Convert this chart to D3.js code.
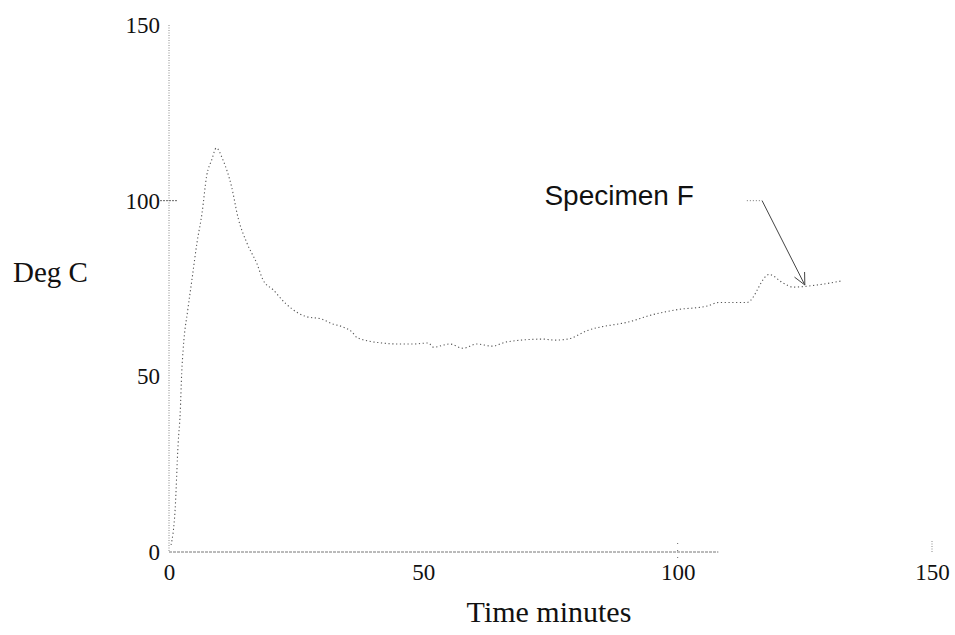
<!DOCTYPE html>
<html>
<head>
<meta charset="utf-8">
<script src="https://cdn.jsdelivr.net/npm/d3@7"></script>
<style>
  body { margin: 0; background: #fff; }
  svg text { font-family: "Liberation Serif", "Times New Roman", serif; fill: #111; }
</style>
</head>
<body>
<div id="chart"></div>
<script>
// chart size
var svgWidth = 955;
var svgHeight = 635;

var margin = { top: 25, right: 23, bottom: 83, left: 169 };
var chartWidth = svgWidth - margin.left - margin.right;
var chartHeight = svgHeight - margin.top - margin.bottom;

// data (time in minutes, temperature in deg C)
var timeMin = [0.4, 1.2, 1.8, 2.2, 2.5, 2.8, 3.7, 4.5, 5.5, 6.5, 7.4, 8.4, 9.3, 10.6, 12.3, 13.6,
  15.3, 17.3, 18.5, 20.5, 22.8, 25.4, 27, 30, 32, 34.3, 36, 37, 41.8, 45.4, 48, 51, 52, 55.2,
  57.8, 60.5, 63.5, 66.4, 73.5, 75.9, 78.4, 82.2, 91.2, 94.2, 100, 105.8, 108, 113.6, 118,
  120.7, 122.7, 127.4, 132];
var tempC = [2, 12, 31, 39.5, 51, 58, 69, 77.4, 88, 96.5, 107, 111.6, 115, 111.6, 104, 95,
  88, 82, 77.4, 74.6, 70.9, 68, 67, 66.3, 65, 64, 62.6, 61, 59.5, 59.2, 59.2, 59.5, 58.3, 59.2,
  58, 59.2, 58.6, 59.8, 60.6, 60.3, 60.6, 63, 65.8, 67.2, 69, 70, 71, 71, 79,
  76.6, 75.4, 76, 77.1];

var xTicks = [0, 50, 100, 150];
var yTicks = [0, 50, 100, 150];

// annotation
var labelText = "Specimen F";
var arrowFrom = [116.6, 100];
var arrowTo = [125, 76];
var leaderStart = 113.6;

var svg = d3.select("#chart")
  .append("svg")
  .attr("width", svgWidth)
  .attr("height", svgHeight);

var chartGroup = svg.append("g")
  .attr("transform", `translate(${margin.left}, ${margin.top})`);

var xScale = d3.scaleLinear().domain([0, 150]).range([0, chartWidth]);
var yScale = d3.scaleLinear().domain([0, 150]).range([chartHeight, 0]);

// axes - only labels come from d3 axis, lines are drawn dotted like the scan
var bottomAxis = d3.axisBottom(xScale).tickValues(xTicks).tickSize(0).tickPadding(12);
var leftAxis = d3.axisLeft(yScale).tickValues(yTicks).tickSize(0).tickPadding(9);

var xAxisG = chartGroup.append("g")
  .attr("transform", `translate(0, ${chartHeight})`)
  .call(bottomAxis);
var yAxisG = chartGroup.append("g").call(leftAxis);

[xAxisG, yAxisG].forEach(function(g) {
  g.select(".domain").remove();
  g.selectAll("text").style("font-size", "23px").attr("font-family", null);
});

// y axis line (faint dotted)
chartGroup.append("line")
  .attr("x1", 0).attr("x2", 0)
  .attr("y1", yScale(150)).attr("y2", yScale(0))
  .attr("stroke", "#888")
  .attr("stroke-width", 1)
  .attr("stroke-dasharray", "1,1.5");

// x axis line, the scan only shows it up to ~108 min
chartGroup.append("line")
  .attr("x1", 0).attr("x2", xScale(108))
  .attr("y1", yScale(0)).attr("y2", yScale(0))
  .attr("stroke", "#777")
  .attr("stroke-width", 1)
  .attr("stroke-dasharray", "3,1");

// small tick marks
chartGroup.append("line")
  .attr("x1", -9).attr("x2", 8)
  .attr("y1", yScale(100)).attr("y2", yScale(100))
  .attr("stroke", "#666").attr("stroke-dasharray", "2,1");
chartGroup.append("line")
  .attr("x1", xScale(100)).attr("x2", xScale(100))
  .attr("y1", yScale(0) - 9).attr("y2", yScale(0) + 8)
  .attr("stroke", "#666").attr("stroke-dasharray", "1,6");
chartGroup.append("line")
  .attr("x1", xScale(150)).attr("x2", xScale(150))
  .attr("y1", yScale(0) - 11).attr("y2", yScale(0))
  .attr("stroke", "#888").attr("stroke-dasharray", "1,1.5");

// temperature curve
var drawLine = d3.line()
  .x(function(d, i) { return xScale(timeMin[i]); })
  .y(function(d, i) { return yScale(tempC[i]); })
  .curve(d3.curveMonotoneX);

chartGroup.append("path")
  .attr("d", drawLine(timeMin))
  .attr("fill", "none")
  .attr("stroke", "#555")
  .attr("stroke-width", 1.1)
  .attr("stroke-dasharray", "1.2,2.6");

// annotation label + arrow
chartGroup.append("text")
  .attr("x", xScale(73.8))
  .attr("y", yScale(98.7))
  .style("font-family", "'Liberation Sans', Arial, sans-serif")
  .style("font-size", "28px")
  .text(labelText);

chartGroup.append("line")
  .attr("x1", xScale(leaderStart)).attr("x2", xScale(arrowFrom[0]))
  .attr("y1", yScale(arrowFrom[1])).attr("y2", yScale(arrowFrom[1]))
  .attr("stroke", "#777").attr("stroke-dasharray", "1,2");

chartGroup.append("line")
  .attr("x1", xScale(arrowFrom[0])).attr("y1", yScale(arrowFrom[1]))
  .attr("x2", xScale(arrowTo[0])).attr("y2", yScale(arrowTo[1]))
  .attr("stroke", "#444").attr("stroke-width", 1);

// arrow head: two short strokes back along the shaft
var ax = xScale(arrowTo[0]), ay = yScale(arrowTo[1]);
var ang = Math.atan2(ay - yScale(arrowFrom[1]), ax - xScale(arrowFrom[0]));
[-0.45, 0.45].forEach(function(da) {
  chartGroup.append("line")
    .attr("x1", ax).attr("y1", ay)
    .attr("x2", ax - 13 * Math.cos(ang + da))
    .attr("y2", ay - 13 * Math.sin(ang + da))
    .attr("stroke", "#444").attr("stroke-width", 1);
});

// axis titles
svg.append("text")
  .attr("x", 13)
  .attr("y", 282)
  .style("font-size", "29px")
  .text("Deg C");

svg.append("text")
  .attr("x", 549)
  .attr("y", 622)
  .attr("text-anchor", "middle")
  .style("font-size", "30px")
  .text("Time minutes");
</script>
</body>
</html>
